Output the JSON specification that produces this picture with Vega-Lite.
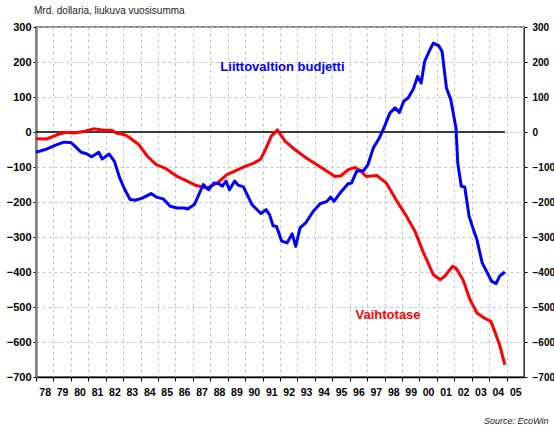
{
  "$schema": "https://vega.github.io/schema/vega-lite/v6.json",
  "width": 488,
  "height": 350,
  "autosize": "none",
  "padding": {"left": 36, "top": 27, "right": 30, "bottom": 53},
  "background": "white",
  "title": {"text": "Mrd. dollaria, liukuva vuosisumma", "anchor": "start", "frame": "group", "orient": "top", "dx": -2, "dy": 13, "offset": 8, "fontSize": 10, "fontWeight": "normal", "color": "#222", "font": "Liberation Sans", "baseline": "bottom"},
  "config": {
    "font": "Liberation Sans",
    "view": {"stroke": "#888", "strokeWidth": 2},
    "axis": {"labelFont": "Liberation Sans", "labelFontWeight": "bold", "labelFontSize": 11, "labelColor": "#000", "gridColor": "#c4c4c4", "gridDash": [3, 3], "gridWidth": 1, "tickColor": "#000", "tickWidth": 1},
    "axisX": {"labelOverlap": false, "labelFlush": false, "labelBound": false, "tickCount": 40}
  },
  "datasets": {
    "zero": [{"year": 1978, "value": 0}, {"year": 2004.9, "value": 0}],
    "labels": [
      {"year": 1992.14, "value": 186, "label": "Liittovaltion budjetti", "series": "Liittovaltion budjetti"},
      {"year": 1998.2, "value": -523, "label": "Vaihtotase", "series": "Vaihtotase"}
    ],
    "series": [
      {"series": "Vaihtotase", "year": 1978.0, "value": -19},
      {"series": "Vaihtotase", "year": 1978.6, "value": -20},
      {"series": "Vaihtotase", "year": 1979.2, "value": -8},
      {"series": "Vaihtotase", "year": 1979.7, "value": -1},
      {"series": "Vaihtotase", "year": 1980.2, "value": -3},
      {"series": "Vaihtotase", "year": 1980.8, "value": 2},
      {"series": "Vaihtotase", "year": 1981.3, "value": 9},
      {"series": "Vaihtotase", "year": 1981.9, "value": 5},
      {"series": "Vaihtotase", "year": 1982.35, "value": 5},
      {"series": "Vaihtotase", "year": 1982.6, "value": -3},
      {"series": "Vaihtotase", "year": 1983.1, "value": -8},
      {"series": "Vaihtotase", "year": 1983.4, "value": -17},
      {"series": "Vaihtotase", "year": 1983.9, "value": -36},
      {"series": "Vaihtotase", "year": 1984.4, "value": -70},
      {"series": "Vaihtotase", "year": 1984.9, "value": -93},
      {"series": "Vaihtotase", "year": 1985.4, "value": -103},
      {"series": "Vaihtotase", "year": 1986.1, "value": -127},
      {"series": "Vaihtotase", "year": 1986.7, "value": -141},
      {"series": "Vaihtotase", "year": 1987.2, "value": -153},
      {"series": "Vaihtotase", "year": 1987.8, "value": -160},
      {"series": "Vaihtotase", "year": 1988.4, "value": -146},
      {"series": "Vaihtotase", "year": 1988.95, "value": -122},
      {"series": "Vaihtotase", "year": 1989.4, "value": -112},
      {"series": "Vaihtotase", "year": 1990.0, "value": -98},
      {"series": "Vaihtotase", "year": 1990.5, "value": -89},
      {"series": "Vaihtotase", "year": 1990.9, "value": -77},
      {"series": "Vaihtotase", "year": 1991.2, "value": -46},
      {"series": "Vaihtotase", "year": 1991.5, "value": -12},
      {"series": "Vaihtotase", "year": 1991.85, "value": 6},
      {"series": "Vaihtotase", "year": 1992.3, "value": -27},
      {"series": "Vaihtotase", "year": 1992.85, "value": -50},
      {"series": "Vaihtotase", "year": 1993.5, "value": -74},
      {"series": "Vaihtotase", "year": 1994.1, "value": -93},
      {"series": "Vaihtotase", "year": 1994.7, "value": -112},
      {"series": "Vaihtotase", "year": 1995.15, "value": -127},
      {"series": "Vaihtotase", "year": 1995.5, "value": -125},
      {"series": "Vaihtotase", "year": 1995.9, "value": -108},
      {"series": "Vaihtotase", "year": 1996.3, "value": -101},
      {"series": "Vaihtotase", "year": 1996.6, "value": -110},
      {"series": "Vaihtotase", "year": 1996.95, "value": -127},
      {"series": "Vaihtotase", "year": 1997.55, "value": -124},
      {"series": "Vaihtotase", "year": 1998.1, "value": -146},
      {"series": "Vaihtotase", "year": 1998.65, "value": -193},
      {"series": "Vaihtotase", "year": 1999.2, "value": -236},
      {"series": "Vaihtotase", "year": 1999.75, "value": -284},
      {"series": "Vaihtotase", "year": 2000.2, "value": -341},
      {"series": "Vaihtotase", "year": 2000.8, "value": -408},
      {"series": "Vaihtotase", "year": 2001.2, "value": -422},
      {"series": "Vaihtotase", "year": 2001.45, "value": -412},
      {"series": "Vaihtotase", "year": 2001.9, "value": -384},
      {"series": "Vaihtotase", "year": 2002.1, "value": -389},
      {"series": "Vaihtotase", "year": 2002.5, "value": -422},
      {"series": "Vaihtotase", "year": 2002.9, "value": -479},
      {"series": "Vaihtotase", "year": 2003.3, "value": -517},
      {"series": "Vaihtotase", "year": 2003.7, "value": -531},
      {"series": "Vaihtotase", "year": 2004.1, "value": -541},
      {"series": "Vaihtotase", "year": 2004.35, "value": -574},
      {"series": "Vaihtotase", "year": 2004.6, "value": -608},
      {"series": "Vaihtotase", "year": 2004.9, "value": -665},
      {"series": "Liittovaltion budjetti", "year": 1978.0, "value": -58},
      {"series": "Liittovaltion budjetti", "year": 1978.6, "value": -49},
      {"series": "Liittovaltion budjetti", "year": 1979.2, "value": -36},
      {"series": "Liittovaltion budjetti", "year": 1979.6, "value": -29},
      {"series": "Liittovaltion budjetti", "year": 1980.0, "value": -30},
      {"series": "Liittovaltion budjetti", "year": 1980.2, "value": -39},
      {"series": "Liittovaltion budjetti", "year": 1980.6, "value": -58},
      {"series": "Liittovaltion budjetti", "year": 1980.9, "value": -62},
      {"series": "Liittovaltion budjetti", "year": 1981.2, "value": -71},
      {"series": "Liittovaltion budjetti", "year": 1981.6, "value": -58},
      {"series": "Liittovaltion budjetti", "year": 1981.8, "value": -77},
      {"series": "Liittovaltion budjetti", "year": 1982.2, "value": -63},
      {"series": "Liittovaltion budjetti", "year": 1982.5, "value": -84},
      {"series": "Liittovaltion budjetti", "year": 1982.8, "value": -131},
      {"series": "Liittovaltion budjetti", "year": 1983.1, "value": -165},
      {"series": "Liittovaltion budjetti", "year": 1983.4, "value": -193},
      {"series": "Liittovaltion budjetti", "year": 1983.7, "value": -195},
      {"series": "Liittovaltion budjetti", "year": 1984.1, "value": -189},
      {"series": "Liittovaltion budjetti", "year": 1984.6, "value": -176},
      {"series": "Liittovaltion budjetti", "year": 1984.9, "value": -186},
      {"series": "Liittovaltion budjetti", "year": 1985.3, "value": -191},
      {"series": "Liittovaltion budjetti", "year": 1985.7, "value": -212},
      {"series": "Liittovaltion budjetti", "year": 1986.1, "value": -217},
      {"series": "Liittovaltion budjetti", "year": 1986.5, "value": -217},
      {"series": "Liittovaltion budjetti", "year": 1986.7, "value": -220},
      {"series": "Liittovaltion budjetti", "year": 1987.0, "value": -210},
      {"series": "Liittovaltion budjetti", "year": 1987.1, "value": -206},
      {"series": "Liittovaltion budjetti", "year": 1987.6, "value": -150},
      {"series": "Liittovaltion budjetti", "year": 1987.9, "value": -165},
      {"series": "Liittovaltion budjetti", "year": 1988.2, "value": -146},
      {"series": "Liittovaltion budjetti", "year": 1988.5, "value": -148},
      {"series": "Liittovaltion budjetti", "year": 1988.7, "value": -155},
      {"series": "Liittovaltion budjetti", "year": 1988.9, "value": -140},
      {"series": "Liittovaltion budjetti", "year": 1989.1, "value": -165},
      {"series": "Liittovaltion budjetti", "year": 1989.4, "value": -140},
      {"series": "Liittovaltion budjetti", "year": 1989.6, "value": -152},
      {"series": "Liittovaltion budjetti", "year": 1989.9, "value": -157},
      {"series": "Liittovaltion budjetti", "year": 1990.4, "value": -208},
      {"series": "Liittovaltion budjetti", "year": 1990.9, "value": -233},
      {"series": "Liittovaltion budjetti", "year": 1991.2, "value": -222},
      {"series": "Liittovaltion budjetti", "year": 1991.4, "value": -236},
      {"series": "Liittovaltion budjetti", "year": 1991.6, "value": -268},
      {"series": "Liittovaltion budjetti", "year": 1991.8, "value": -270},
      {"series": "Liittovaltion budjetti", "year": 1992.1, "value": -312},
      {"series": "Liittovaltion budjetti", "year": 1992.4, "value": -317},
      {"series": "Liittovaltion budjetti", "year": 1992.7, "value": -291},
      {"series": "Liittovaltion budjetti", "year": 1992.9, "value": -327},
      {"series": "Liittovaltion budjetti", "year": 1993.15, "value": -274},
      {"series": "Liittovaltion budjetti", "year": 1993.5, "value": -258},
      {"series": "Liittovaltion budjetti", "year": 1993.9, "value": -227},
      {"series": "Liittovaltion budjetti", "year": 1994.3, "value": -205},
      {"series": "Liittovaltion budjetti", "year": 1994.7, "value": -198},
      {"series": "Liittovaltion budjetti", "year": 1994.9, "value": -186},
      {"series": "Liittovaltion budjetti", "year": 1995.1, "value": -198},
      {"series": "Liittovaltion budjetti", "year": 1995.45, "value": -174},
      {"series": "Liittovaltion budjetti", "year": 1995.9, "value": -148},
      {"series": "Liittovaltion budjetti", "year": 1996.1, "value": -146},
      {"series": "Liittovaltion budjetti", "year": 1996.4, "value": -112},
      {"series": "Liittovaltion budjetti", "year": 1996.8, "value": -110},
      {"series": "Liittovaltion budjetti", "year": 1997.05, "value": -93},
      {"series": "Liittovaltion budjetti", "year": 1997.35, "value": -46},
      {"series": "Liittovaltion budjetti", "year": 1997.7, "value": -17},
      {"series": "Liittovaltion budjetti", "year": 1998.0, "value": 16},
      {"series": "Liittovaltion budjetti", "year": 1998.3, "value": 54},
      {"series": "Liittovaltion budjetti", "year": 1998.6, "value": 69},
      {"series": "Liittovaltion budjetti", "year": 1998.85, "value": 56},
      {"series": "Liittovaltion budjetti", "year": 1999.1, "value": 88},
      {"series": "Liittovaltion budjetti", "year": 1999.35, "value": 97},
      {"series": "Liittovaltion budjetti", "year": 1999.65, "value": 123},
      {"series": "Liittovaltion budjetti", "year": 1999.9, "value": 159},
      {"series": "Liittovaltion budjetti", "year": 2000.1, "value": 140},
      {"series": "Liittovaltion budjetti", "year": 2000.3, "value": 202},
      {"series": "Liittovaltion budjetti", "year": 2000.6, "value": 235},
      {"series": "Liittovaltion budjetti", "year": 2000.8, "value": 254},
      {"series": "Liittovaltion budjetti", "year": 2001.1, "value": 247},
      {"series": "Liittovaltion budjetti", "year": 2001.3, "value": 230},
      {"series": "Liittovaltion budjetti", "year": 2001.55, "value": 126},
      {"series": "Liittovaltion budjetti", "year": 2001.8, "value": 92},
      {"series": "Liittovaltion budjetti", "year": 2002.1, "value": 11},
      {"series": "Liittovaltion budjetti", "year": 2002.2, "value": -89},
      {"series": "Liittovaltion budjetti", "year": 2002.4, "value": -155},
      {"series": "Liittovaltion budjetti", "year": 2002.6, "value": -157},
      {"series": "Liittovaltion budjetti", "year": 2002.85, "value": -241},
      {"series": "Liittovaltion budjetti", "year": 2003.1, "value": -279},
      {"series": "Liittovaltion budjetti", "year": 2003.3, "value": -308},
      {"series": "Liittovaltion budjetti", "year": 2003.6, "value": -374},
      {"series": "Liittovaltion budjetti", "year": 2003.9, "value": -403},
      {"series": "Liittovaltion budjetti", "year": 2004.15, "value": -427},
      {"series": "Liittovaltion budjetti", "year": 2004.4, "value": -433},
      {"series": "Liittovaltion budjetti", "year": 2004.6, "value": -412},
      {"series": "Liittovaltion budjetti", "year": 2004.9, "value": -400}
    ]
  },
  "layer": [
    {
      "data": {"name": "zero"},
      "mark": {"type": "line", "color": "#000", "strokeWidth": 1.5},
      "encoding": {
        "x": {"field": "year", "type": "quantitative", "scale": {"domain": [1978, 2006], "nice": false, "zero": false},
          "axis": {"orient": "bottom", "values": [1978,1979,1980,1981,1982,1983,1984,1985,1986,1987,1988,1989,1990,1991,1992,1993,1994,1995,1996,1997,1998,1999,2000,2001,2002,2003,2004,2005],
            "format": "d", "labelExpr": "substring(datum.label, 2, 4)", "labelOffset": 8.7, "labelFlush": false, "labelOverlap": false, "tickCount": 40,
            "tickSize": 4, "labelPadding": 6, "labelFontSize": 10.5, "domainColor": "#000", "domainWidth": 1.5, "grid": true,
            "title": "Source: EcoWin", "titleFontStyle": "italic", "titleFontWeight": "normal", "titleFontSize": 9, "titleColor": "#222",
            "titleAlign": "right", "titleBaseline": "middle", "titleX": 512, "titleY": 43}},
        "y": {"field": "value", "type": "quantitative", "scale": {"domain": [-700, 300], "nice": false, "zero": false},
          "axis": {"orient": "right", "values": [-700,-600,-500,-400,-300,-200,-100,0,100,200,300], "tickCount": 20, "grid": false, "domainColor": "#333", "domainWidth": 1, "tickSize": 3, "labelPadding": 5, "labelFontSize": 10, "labelAlign": "left", "title": null}}
      }
    },
    {
      "data": {"name": "series"},
      "mark": {"type": "line", "strokeWidth": 3, "strokeJoin": "round"},
      "encoding": {
        "x": {"field": "year", "type": "quantitative", "scale": {"domain": [1978, 2006], "nice": false, "zero": false},
          "axis": {"orient": "bottom", "values": [1978,1979,1980,1981,1982,1983,1984,1985,1986,1987,1988,1989,1990,1991,1992,1993,1994,1995,1996,1997,1998,1999,2000,2001,2002,2003,2004,2005],
            "format": "d", "labelExpr": "substring(datum.label, 2, 4)", "labelOffset": 8.7, "labelFlush": false, "labelOverlap": false, "tickCount": 40,
            "tickSize": 4, "labelPadding": 6, "labelFontSize": 10.5, "domainColor": "#000", "domainWidth": 1.5, "grid": true,
            "title": "Source: EcoWin", "titleFontStyle": "italic", "titleFontWeight": "normal", "titleFontSize": 9, "titleColor": "#222",
            "titleAlign": "right", "titleBaseline": "middle", "titleX": 512, "titleY": 43}},
        "y": {"field": "value", "type": "quantitative", "scale": {"domain": [-700, 300], "nice": false, "zero": false},
          "axis": {"orient": "left", "values": [-700,-600,-500,-400,-300,-200,-100,0,100,200,300], "tickCount": 20, "grid": true, "domainColor": "#808080", "domainWidth": 2.5, "tickSize": 3, "labelPadding": 2, "title": null}},
        "color": {"field": "series", "type": "nominal", "scale": {"domain": ["Vaihtotase", "Liittovaltion budjetti"], "range": ["#ff0000", "#0000ff"]}, "legend": null}
      }
    },
    {
      "data": {"name": "labels"},
      "mark": {"type": "text", "fontWeight": "bold", "fontSize": 13, "font": "Liberation Sans"},
      "encoding": {
        "x": {"field": "year", "type": "quantitative", "scale": {"domain": [1978, 2006], "nice": false, "zero": false}},
        "y": {"field": "value", "type": "quantitative", "scale": {"domain": [-700, 300], "nice": false, "zero": false}, "axis": null},
        "text": {"field": "label"},
        "color": {"field": "series", "type": "nominal", "legend": null}
      }
    }
  ],
  "resolve": {"axis": {"y": "independent"}}
}
